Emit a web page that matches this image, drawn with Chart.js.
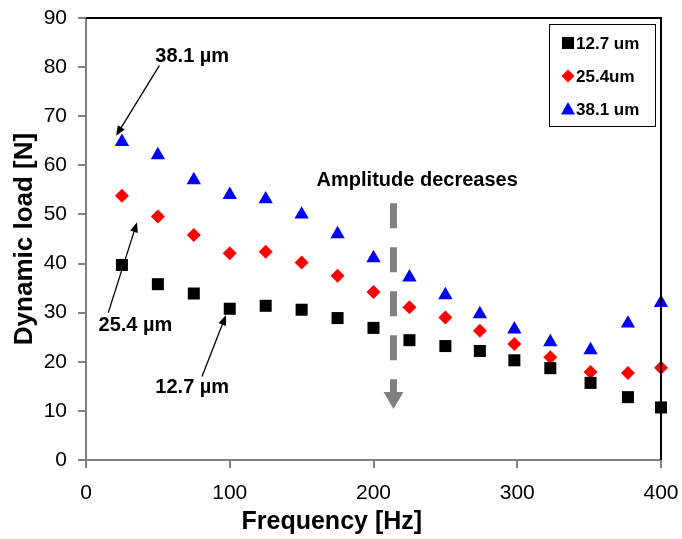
<!DOCTYPE html>
<html>
<head>
<meta charset="utf-8">
<script src="https://cdn.jsdelivr.net/npm/chart.js@4/dist/chart.umd.min.js"></script>
<style>
  html, body { margin: 0; padding: 0; background: #fff; }
  #wrap { width: 682px; height: 539px; }
</style>
</head>
<body>
<div id="wrap"><canvas id="chart" width="682" height="539"></canvas></div>
<script>
// ── Data ──────────────────────────────────────────────────────
const FREQ     = [25, 50, 75, 100, 125, 150, 175, 200, 225, 250, 274, 298, 323, 351, 377, 400];
const LOAD_127 = [39.7, 35.8, 33.9, 30.8, 31.4, 30.6, 28.9, 26.9, 24.4, 23.2, 22.2, 20.3, 18.7, 15.7, 12.8, 10.7];
const LOAD_254 = [53.8, 49.6, 45.8, 42.1, 42.4, 40.2, 37.5, 34.2, 31.1, 29.0, 26.3, 23.6, 20.9, 17.9, 17.7, 18.8];
const LOAD_381 = [64.8, 62.1, 57.0, 54.0, 53.1, 50.0, 46.0, 41.1, 37.2, 33.6, 29.7, 26.6, 24.0, 22.4, 27.8, 32.0];
const SERIES   = ['12.7 um', '25.4um', '38.1 um'];
const X_RANGE  = [0, 400, 100];   // min, max, step
const Y_RANGE  = [0, 90, 10];
const X_TITLE  = 'Frequency [Hz]';
const Y_TITLE  = 'Dynamic load [N]';

const FONT = "'Liberation Sans', Arial, sans-serif";
const GREY = '#808080';

// Annotations (data units)
const LABELS = [
    { text: '38.1 µm', x: 73.9, y: 82.1, from: [51.0, 80.3], to: [20.9, 66.0] },
    { text: '25.4 µm', x: 34.4, y: 27.3, from: [15.5, 30.0], to: [35.5, 48.4] },
    { text: '12.7 µm', x: 73.9, y: 14.7, from: [80.7, 17.0], to: [97.4, 29.5] },
];
const TREND = { text: 'Amplitude decreases', x: 230.4, y: 57.0, arrowX: 213.9, arrowTop: 52.3, arrowTip: 10.4 };

const puntos = serie => FREQ.map((f, i) => ({ x: f, y: serie[i] }));

// ── Annotation + legend plugin ────────────────────────────────
function flecha(ctx, x1, y1, x2, y2) {
    const ang = Math.atan2(y2 - y1, x2 - x1);
    const L = 10, W = 4;
    ctx.beginPath();
    ctx.moveTo(x1, y1);
    ctx.lineTo(x2 - Math.cos(ang) * L * 0.8, y2 - Math.sin(ang) * L * 0.8);
    ctx.stroke();
    ctx.beginPath();
    ctx.moveTo(x2, y2);
    ctx.lineTo(x2 - Math.cos(ang) * L - Math.sin(ang) * W, y2 - Math.sin(ang) * L + Math.cos(ang) * W);
    ctx.lineTo(x2 - Math.cos(ang) * L + Math.sin(ang) * W, y2 - Math.sin(ang) * L - Math.cos(ang) * W);
    ctx.closePath();
    ctx.fill();
}

const extras = {
    id: 'extras',
    afterDraw(chart) {
        const { ctx, chartArea: a, scales: { x, y } } = chart;
        ctx.save();

        // top and right frame
        ctx.strokeStyle = '#000';
        ctx.lineWidth = 2;
        ctx.beginPath();
        ctx.moveTo(a.left, a.top);
        ctx.lineTo(a.right, a.top);
        ctx.lineTo(a.right, a.bottom);
        ctx.stroke();

        // x title: the figure has it left of the plot centre
        ctx.fillStyle = '#000';
        ctx.font = `bold 25px ${FONT}`;
        ctx.textAlign = 'center';
        ctx.textBaseline = 'middle';
        ctx.fillText(X_TITLE, x.getPixelForValue(171), chart.height - 17);

        // µm labels with arrows
        ctx.strokeStyle = '#000';
        ctx.lineWidth = 1.3;
        ctx.font = `bold 20px ${FONT}`;
        LABELS.forEach(l => {
            ctx.fillText(l.text, x.getPixelForValue(l.x), y.getPixelForValue(l.y));
            flecha(ctx, x.getPixelForValue(l.from[0]), y.getPixelForValue(l.from[1]),
                        x.getPixelForValue(l.to[0]), y.getPixelForValue(l.to[1]));
        });

        // "Amplitude decreases" + dashed grey arrow
        ctx.fillText(TREND.text, x.getPixelForValue(TREND.x), y.getPixelForValue(TREND.y));
        const ax = x.getPixelForValue(TREND.arrowX);
        const top = y.getPixelForValue(TREND.arrowTop);
        const tip = y.getPixelForValue(TREND.arrowTip);
        ctx.strokeStyle = GREY;
        ctx.fillStyle = GREY;
        ctx.lineWidth = 7;
        ctx.setLineDash([25, 19]);
        ctx.beginPath();
        ctx.moveTo(ax, top);
        ctx.lineTo(ax, tip - 17);
        ctx.stroke();
        ctx.setLineDash([]);
        ctx.beginPath();
        ctx.moveTo(ax - 10, tip - 17);
        ctx.lineTo(ax + 10, tip - 17);
        ctx.lineTo(ax, tip);
        ctx.closePath();
        ctx.fill();

        // legend box (top right, inside plot)
        const bx = a.right - 112, by = a.top + 6, bw = 106, bh = 102;
        ctx.fillStyle = '#fff';
        ctx.fillRect(bx, by, bw, bh);
        ctx.strokeStyle = '#000';
        ctx.lineWidth = 1;
        ctx.strokeRect(bx + 0.5, by + 0.5, bw, bh);
        ctx.font = `bold 17px ${FONT}`;
        ctx.textAlign = 'left';
        chart.data.datasets.forEach((ds, i) => {
            const cy = by + 19 + i * 33;
            const cx = bx + 19;
            ctx.fillStyle = ds.backgroundColor;
            ctx.beginPath();
            if (ds.pointStyle === 'rect') {
                ctx.rect(cx - 6, cy - 6, 12, 12);
            } else if (ds.pointStyle === 'rectRot') {
                ctx.moveTo(cx, cy - 6.5); ctx.lineTo(cx + 6.5, cy);
                ctx.lineTo(cx, cy + 6.5); ctx.lineTo(cx - 6.5, cy);
            } else {
                ctx.moveTo(cx, cy - 7); ctx.lineTo(cx + 7, cy + 5.5); ctx.lineTo(cx - 7, cy + 5.5);
            }
            ctx.closePath();
            ctx.fill();
            ctx.fillStyle = '#000';
            ctx.fillText(ds.label, cx + 8, cy + 1);
        });
        ctx.restore();
    },
};

// ── Chart ─────────────────────────────────────────────────────
new Chart(document.getElementById('chart'), {
    type: 'scatter',
    data: {
        datasets: [
            { label: SERIES[0], data: puntos(LOAD_127), pointStyle: 'rect',     pointRadius: 8.5, backgroundColor: '#000000', borderWidth: 0, clip: false },
            { label: SERIES[1], data: puntos(LOAD_254), pointStyle: 'rectRot',  pointRadius: 7,   backgroundColor: '#FF0000', borderWidth: 0, clip: false },
            { label: SERIES[2], data: puntos(LOAD_381), pointStyle: 'triangle', pointRadius: 8.3, backgroundColor: '#0000FF', borderWidth: 0, clip: false },
        ],
    },
    options: {
        responsive: false,
        animation: false,
        devicePixelRatio: 1,
        layout: { padding: { left: 0, top: 18, right: 21, bottom: 0 } },
        plugins: { legend: { display: false }, tooltip: { enabled: false } },
        scales: {
            x: {
                type: 'linear', min: X_RANGE[0], max: X_RANGE[1],
                // fixed box: ignore label overflow so the plot edges land where the figure has them
                afterFit: s => { s.height = 79; s.paddingLeft = 0; s.paddingRight = 0; },
                ticks: { stepSize: X_RANGE[2], color: '#000', padding: 13, font: { family: FONT, size: 21 } },
                grid: { drawOnChartArea: false, tickLength: 8, color: GREY, lineWidth: 2 },
                border: { color: GREY, width: 2 },
            },
            y: {
                type: 'linear', min: Y_RANGE[0], max: Y_RANGE[1],
                afterFit: s => { s.width = 86; s.paddingTop = 0; s.paddingBottom = 0; },
                ticks: { stepSize: Y_RANGE[2], color: '#000', padding: 11, font: { family: FONT, size: 21 } },
                grid: { drawOnChartArea: false, tickLength: 8, color: GREY, lineWidth: 2 },
                border: { color: GREY, width: 2 },
                title: { display: true, text: Y_TITLE, color: '#000', padding: { top: 9, bottom: 0 },
                         font: { family: FONT, size: 26, weight: 'bold' } },
            },
        },
    },
    plugins: [extras],
});
</script>
</body>
</html>
